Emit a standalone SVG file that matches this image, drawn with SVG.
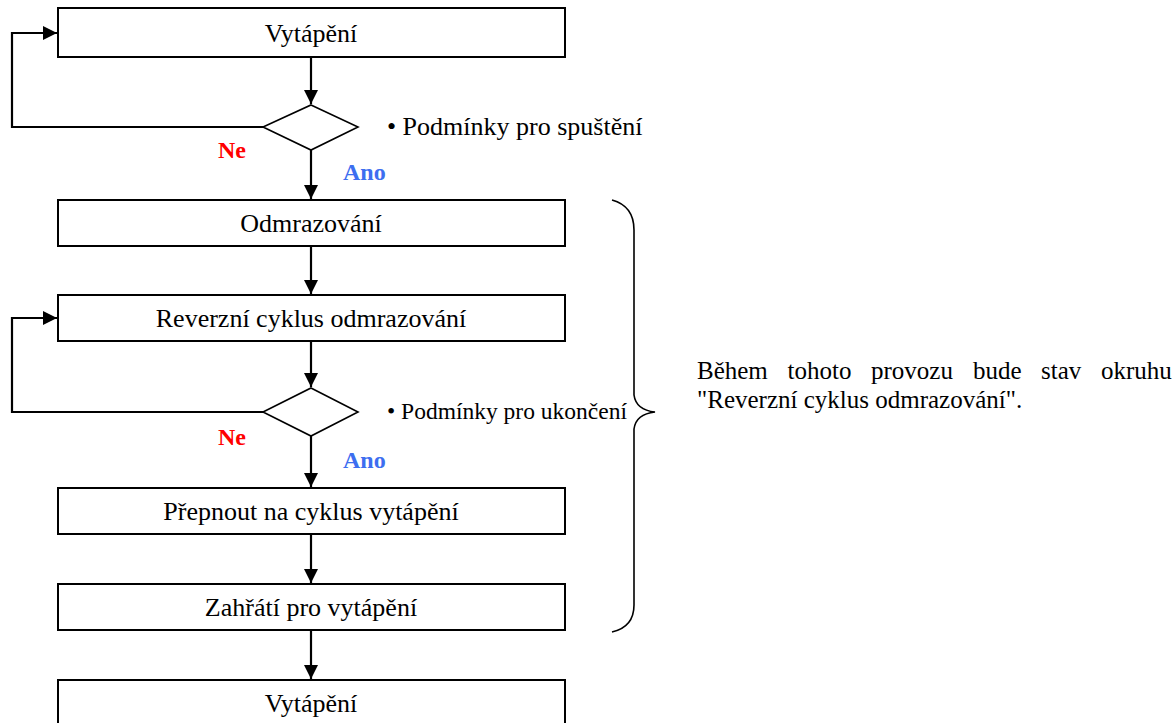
<svg xmlns="http://www.w3.org/2000/svg" width="1175" height="723" viewBox="0 0 1175 723">
<style>
.box{fill:#fff;stroke:#000;stroke-width:2}
.dia{fill:#fff;stroke:#000;stroke-width:1.6}
.ln{fill:none;stroke:#000;stroke-width:2.2}
.t{font-family:"Liberation Serif","Times New Roman",serif;font-size:26px;fill:#000}
.ne{font-family:"Liberation Serif","Times New Roman",serif;font-size:24px;font-weight:bold;fill:#ff0000}
.ano{font-family:"Liberation Serif","Times New Roman",serif;font-size:24px;font-weight:bold;fill:#3d6ef0}
.note{font-family:"Liberation Serif","Times New Roman",serif;font-size:25px;fill:#000}
</style>
<defs>
<marker id="a" viewBox="0 0 14 14" refX="14" refY="7" markerWidth="14" markerHeight="14" markerUnits="userSpaceOnUse" orient="auto">
<path d="M0,0 L14,7 L0,14 z" fill="#000"/>
</marker>
</defs>
<g id="connectors">
<path class="ln" d="M311,57 V104" marker-end="url(#a)"/>
<path class="ln" d="M263,127 H12 V33 H57" marker-end="url(#a)"/>
<path class="ln" d="M311,150 V199" marker-end="url(#a)"/>
<path class="ln" d="M311,246 V294" marker-end="url(#a)"/>
<path class="ln" d="M311,341 V387" marker-end="url(#a)"/>
<path class="ln" d="M263,412 H12 V318 H57" marker-end="url(#a)"/>
<path class="ln" d="M311,436 V487" marker-end="url(#a)"/>
<path class="ln" d="M311,534 V583" marker-end="url(#a)"/>
<path class="ln" d="M311,630 V679" marker-end="url(#a)"/>
</g>
<g id="n1"><rect class="box" x="58" y="8" width="507" height="49"/><text class="t" x="311" y="42" text-anchor="middle">Vytápění</text></g>
<g id="d1"><path class="dia" d="M311,105 L358,127 L311,150 L263,127 Z"/><text class="t" x="387" y="135">• Podmínky pro spuštění</text></g>
<g id="l1"><text class="ne" x="218" y="158">Ne</text><text class="ano" x="343" y="180">Ano</text></g>
<g id="n2"><rect class="box" x="58" y="200" width="507" height="46"/><text class="t" x="311" y="232" text-anchor="middle">Odmrazování</text></g>
<g id="n3"><rect class="box" x="58" y="295" width="507" height="46"/><text class="t" x="311" y="327" text-anchor="middle">Reverzní cyklus odmrazování</text></g>
<g id="d2"><path class="dia" d="M311,388 L358,412 L311,436 L263,412 Z"/><text class="t" x="387" y="419" style="font-size:23.5px">• Podmínky pro ukončení</text></g>
<g id="l2"><text class="ne" x="218" y="445">Ne</text><text class="ano" x="343" y="468">Ano</text></g>
<g id="n4"><rect class="box" x="58" y="488" width="507" height="46"/><text class="t" x="311" y="520" text-anchor="middle">Přepnout na cyklus vytápění</text></g>
<g id="n5"><rect class="box" x="58" y="584" width="507" height="46"/><text class="t" x="311" y="616" text-anchor="middle">Zahřátí pro vytápění</text></g>
<g id="n6"><rect class="box" x="58" y="680" width="507" height="50"/><text class="t" x="311" y="712" text-anchor="middle">Vytápění</text></g>
<g id="brace"><path class="ln" style="stroke-width:1.6" d="M612,200 Q634,206 634,230 V395 Q636,410 655,412 Q636,414 634,429 V605 Q634,627 612,632"/></g>
<g id="note">
<text class="note" y="379"><tspan x="697">Během</tspan><tspan x="787.5">tohoto</tspan><tspan x="871">provozu</tspan><tspan x="973">bude</tspan><tspan x="1041">stav</tspan><tspan x="1101">okruhu</tspan></text>
<text class="note" x="697" y="408">"Reverzní cyklus odmrazování".</text>
</g>
</svg>
